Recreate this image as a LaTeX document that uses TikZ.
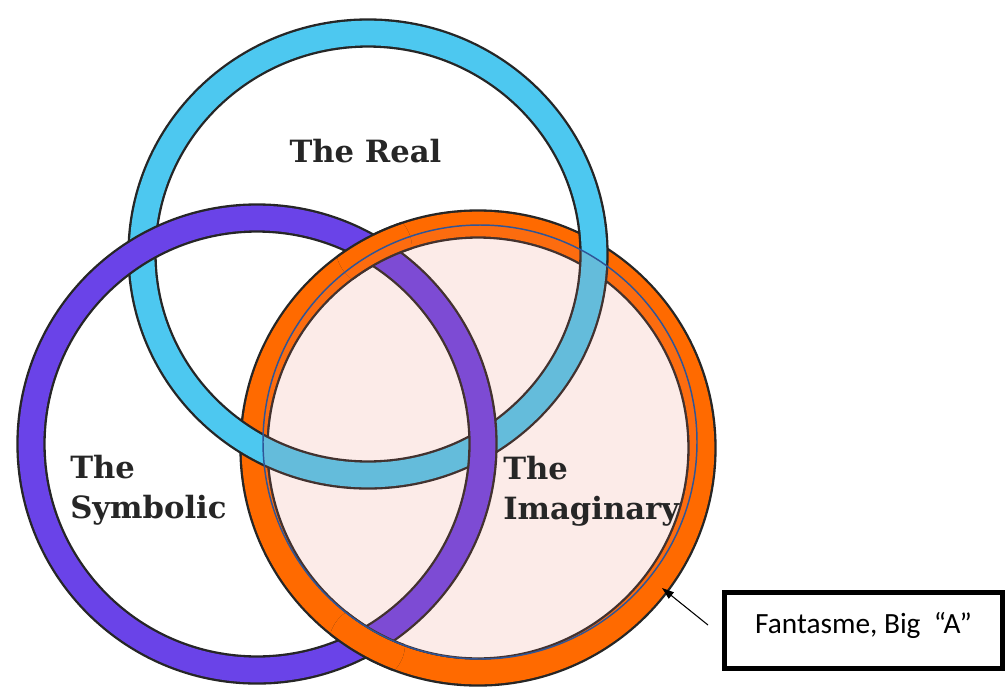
\documentclass[tikz,border=0pt]{standalone}
\usepackage{fontspec}
\setmainfont{DejaVu Serif}
\newfontfamily\notefont{Carlito}
\usetikzlibrary{positioning,arrows.meta}
\definecolor{realcyan}{HTML}{4DC8F0}
\definecolor{symbpurple}{HTML}{6A43E8}
\definecolor{imagorange}{HTML}{FF6A00}
\definecolor{fantpink}{HTML}{EB7A66}
\definecolor{fantblue}{HTML}{2F5597}

\begin{document}
\begin{tikzpicture}[
  x=0.75pt, y=-0.75pt,
  rimedge/.style={line width=22pt, black!85},
  rimfill/.style={line width=18.5pt, draw=#1},
  ringlabel/.style={font=\fontsize{23}{30}\selectfont\bfseries,
    align=left, inner sep=0pt, text=black!85},
  fantbox/.style={draw, line width=3.75pt, minimum width=208.5pt,
    minimum height=57pt, text depth=12pt,
    font=\notefont\fontsize{22}{26}\selectfont}
]
\useasboundingbox (0,0) rectangle (1007,687);

% centres of the three rings
\coordinate (creal) at (368,254);
\coordinate (csymb) at (257,444);
\coordinate (cimag) at (478,448);

% imaginary first, then real, then symbolic
\draw[rimedge] (cimag) circle[radius=224];
\draw[rimfill=imagorange] (cimag) circle[radius=224];
\draw[rimedge] (creal) ellipse[x radius=226, y radius=221];
\draw[rimfill=realcyan] (creal) ellipse[x radius=226, y radius=221];
\draw[rimedge] (csymb) circle[radius=226];
\draw[rimfill=symbpurple] (csymb) circle[radius=226];

% orange back over purple where they cross
\begin{scope}
  \clip (374,248) circle[radius=38] (367,644) circle[radius=38];
  \draw[rimedge] (cimag) circle[radius=224];
  \draw[rimfill=imagorange] (cimag) circle[radius=224];
\end{scope}

% the fantasme disc
\coordinate (cfant) at (480,442);
\fill[fantpink, fill opacity=0.15] (cfant) circle[radius=217];
\draw[fantblue, line width=1.1pt] (cfant) circle[radius=217];

\node[ringlabel, anchor=base] (real) at (365.5,162) {The Real};
\node[ringlabel, anchor=north west] (symb) at (70,455) {The\\Symbolic};
\node[ringlabel, anchor=north west] (imag) at (503,456) {The\\Imaginary};

\node[fantbox] (fant) at (863.5,630.5) {Fantasme, Big~~“A”};
\coordinate (tail) at (708,625);
\coordinate (tip) at (662,588);
\draw[-{Triangle[length=9pt,width=6pt]}, line width=0.8pt] (tail) -- (tip);
\end{tikzpicture}
\end{document}
